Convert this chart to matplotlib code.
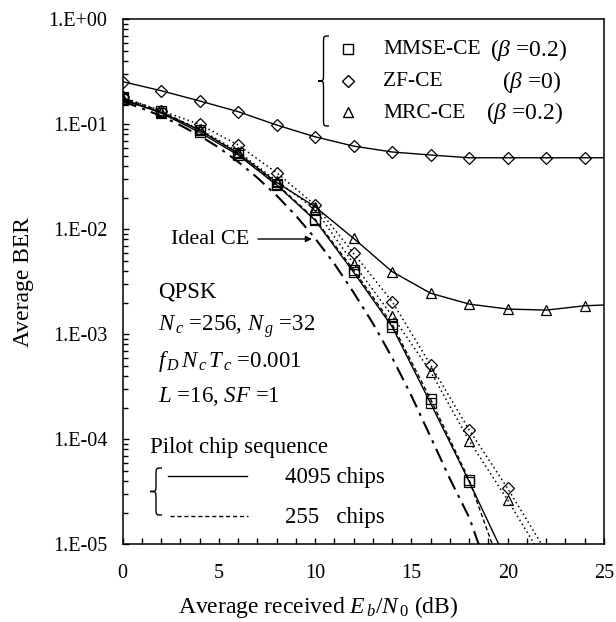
import numpy as np
import matplotlib
matplotlib.use("Agg")
import matplotlib.pyplot as plt
from matplotlib.path import Path
from matplotlib.patches import PathPatch
from matplotlib.lines import Line2D
from matplotlib.transforms import Affine2D
from matplotlib.ticker import FixedLocator, LogLocator, NullFormatter

plt.rcParams['font.family'] = ['Liberation Serif', 'DejaVu Serif']
plt.rcParams['mathtext.fontset'] = 'custom'
plt.rcParams['mathtext.rm'] = 'Liberation Serif'
plt.rcParams['mathtext.it'] = 'Liberation Serif:italic'
plt.rcParams['mathtext.bf'] = 'Liberation Serif:bold'

# ---------------- data ----------------
# ZF-CE (beta=0), 4095 chips (solid, diamonds)
zf4095_x = [0, 2, 4, 6, 8, 10, 12, 14, 16, 18, 20, 22, 24, 25]
zf4095_y = [0.255, 0.209, 0.167, 0.132, 0.0985, 0.076, 0.062, 0.0545, 0.051, 0.048, 0.048, 0.048, 0.048, 0.048]

# MRC-CE (beta=0.2), 4095 chips (solid, triangles)
mrc4095_x = [0, 2, 4, 6, 8, 10, 12, 14, 16, 18, 20, 22, 24, 25]
mrc4095_y = [0.17, 0.13, 0.088, 0.053, 0.028, 0.0164, 0.0082, 0.00395, 0.00246, 0.00194, 0.00174, 0.0017, 0.00187, 0.0019]

# MMSE-CE (beta=0.2), 4095 chips (solid, squares)
mmse4095_x = [0, 2, 4, 6, 8, 10, 12, 14, 16, 18, 20]
mmse4095_y = [0.175, 0.128, 0.084, 0.051, 0.0265, 0.0122, 0.0039, 0.00118, 0.00022, 3.95e-5, 6.6e-6]

# MMSE-CE (beta=0.2), 255 chips (dashed, squares)
mmse255_x = [0, 2, 4, 6, 8, 10, 12, 14, 16, 18, 19.5]
mmse255_y = [0.18, 0.133, 0.088, 0.053, 0.027, 0.0125, 0.0041, 0.00125, 0.00024, 4.1e-5, 7e-6]

# ZF-CE (beta=0), 255 chips (dotted, diamonds)
zf255_x = [0, 2, 4, 6, 8, 10, 12, 14, 16, 18, 20, 22.5]
zf255_y = [0.18, 0.135, 0.1, 0.0635, 0.0346, 0.017, 0.0059, 0.00205, 5.1e-4, 1.23e-4, 3.4e-5, 6e-6]

# MRC-CE (beta=0.2), 255 chips (dotted, triangles)
mrc255_x = [0, 2, 4, 6, 8, 10, 12, 14, 16, 18, 20, 22]
mrc255_y = [0.175, 0.13, 0.09, 0.055, 0.029, 0.0155, 0.0047, 0.0015, 4.4e-4, 9.7e-5, 2.64e-5, 6.5e-6]

# Ideal CE (dash-dot, no markers)
ideal_x = [0, 1, 2, 3, 4, 5, 6, 7, 8, 9, 10, 11, 12, 13, 14, 15, 16, 17, 18, 19]
ideal_y = [0.165, 0.142, 0.12, 0.098, 0.078, 0.06, 0.044, 0.031, 0.021, 0.0135, 0.0082,
           0.0047, 0.0025, 0.00127, 6.0e-4, 2.6e-4, 1.05e-4, 4.2e-5, 1.8e-5, 5.5e-6]

xticks = [0, 5, 10, 15, 20, 25]
yticks = [1e-5, 1e-4, 1e-3, 1e-2, 1e-1, 1e0]
ytick_labels = ['1.E-05', '1.E-04', '1.E-03', '1.E-02', '1.E-01', '1.E+00']

# ---------------- figure ----------------
W, H = 616, 622
fig = plt.figure(figsize=(W / 100, H / 100), dpi=100)
L, R, T, B = 122.5, 604, 19.3, 544.3
ax = fig.add_axes([L / W, 1 - B / H, (R - L) / W, (B - T) / H])
ax.set_xlim(0, 25)
ax.set_yscale('log')
ax.set_ylim(1e-5, 1)

lw = 1.0
mk = dict(markerfacecolor='none', markeredgecolor='black', markeredgewidth=0.9)

ax.plot(zf4095_x, zf4095_y, '-', color='black', lw=lw, marker='D', ms=6,
        markevery=list(range(13)), **mk)
ax.plot(mrc4095_x, mrc4095_y, '-', color='black', lw=lw, marker='^', ms=7,
        markevery=list(range(13)), **mk)
ax.plot(mmse4095_x, mmse4095_y, '-', color='black', lw=lw, marker='s', ms=6.5,
        markevery=list(range(10)), **mk)
ax.plot(mmse255_x, mmse255_y, color='black', lw=lw, ls=(0, (3, 2)), marker='s', ms=6.5,
        markevery=list(range(10)), **mk)
ax.plot(zf255_x, zf255_y, color='black', lw=lw * 1.1, ls=(0, (1, 2)), marker='D', ms=6,
        markevery=list(range(11)), **mk)
ax.plot(mrc255_x, mrc255_y, color='black', lw=lw * 1.1, ls=(0, (1, 2)), marker='^', ms=7,
        markevery=list(range(11)), **mk)
ax.plot(ideal_x, ideal_y, color='black', lw=1.5, ls=(0, (7, 3, 1.5, 3)))

# axes styling
for s in ax.spines.values():
    s.set_linewidth(1.1)
ax.xaxis.set_major_locator(FixedLocator(xticks))
ax.xaxis.set_minor_locator(FixedLocator(list(range(0, 26))))
ax.set_xticklabels([str(v) for v in xticks])
ax.yaxis.set_major_locator(FixedLocator(yticks))
ax.set_yticklabels(ytick_labels)
ax.yaxis.set_minor_locator(LogLocator(base=10, subs=np.arange(2, 10)))
ax.yaxis.set_minor_formatter(NullFormatter())
ax.tick_params(which='both', direction='in', top=False, right=False, width=1.0)
ax.tick_params(which='major', length=4.5)
ax.tick_params(which='minor', length=3.5)
ax.tick_params(axis='y', which='major', labelsize=14.5, pad=11)
ax.tick_params(axis='x', which='major', labelsize=14.5, pad=14)
ax.tick_params(axis='x', which='minor', length=4.5)

ax.set_ylabel('Average BER', fontsize=17, labelpad=10)
fig.text(318 / W, 1 - 607 / H, r'Average received $E_{\,b}$/$N_{\,0}$ (dB)', fontsize=17,
         ha='center', va='center')

# ---------------- annotations in pixel coordinates ----------------
pix = Affine2D().scale(1, -1).translate(0, H)

def ptext(x, y, s, **kw):
    fig.text(x / W, 1 - y / H, s, **kw)

def brace(xr, y0, y1, w):
    xm = xr - w * 0.5
    xl = xr - w
    ym = 0.5 * (y0 + y1)
    r = w * 0.6
    verts = [(xr, y0), (xm, y0), (xm, y0), (xm, y0 + r),
             (xm, ym - r),
             (xm, ym), (xm, ym), (xl, ym),
             (xm, ym), (xm, ym), (xm, ym + r),
             (xm, y1 - r),
             (xm, y1), (xm, y1), (xr, y1)]
    codes = [Path.MOVETO, Path.CURVE4, Path.CURVE4, Path.CURVE4,
             Path.LINETO,
             Path.CURVE4, Path.CURVE4, Path.CURVE4,
             Path.CURVE4, Path.CURVE4, Path.CURVE4,
             Path.LINETO,
             Path.CURVE4, Path.CURVE4, Path.CURVE4]
    p = PathPatch(Path(verts, codes), facecolor='none', edgecolor='black', lw=1.0,
                  transform=pix)
    fig.add_artist(p)

fs = 16.5
fsl = 15.5
fsb = 17
# top legend
brace(329, 36, 126, 11)
for (yy, m, ms) in [(49, 's', 7), (81, 'D', 6.5), (112, '^', 7.5)]:
    fig.add_artist(Line2D([348], [H - yy], marker=m, ms=ms, color='black',
                          markerfacecolor='none', markeredgewidth=1.0, transform=None))
ptext(383, 50, 'MMSE-CE', fontsize=fsl, va='center')
ptext(490, 50, r'($\beta$ =0.2)', fontsize=fsb, va='center')
ptext(383, 82, 'ZF-CE', fontsize=fsl, va='center')
ptext(502, 82, r'($\beta$ =0)', fontsize=fsb, va='center')
ptext(383, 113, 'MRC-CE', fontsize=fsl, va='center')
ptext(486, 113, r'($\beta$ =0.2)', fontsize=fsb, va='center')

# Ideal CE arrow
ptext(171, 240, 'Ideal CE', fontsize=16, va='center')
ax.annotate('', xy=(312 / W, 1 - 239 / H), xycoords='figure fraction',
            xytext=(258 / W, 1 - 239 / H), textcoords='figure fraction',
            arrowprops=dict(arrowstyle='-|>', color='black', lw=1.0,
                            mutation_scale=9, shrinkA=0, shrinkB=0))

# parameter text
ptext(158, 292, 'QPSK', fontsize=fs, va='center')
ptext(158, 327, r'$N_{\,c}$ =256, $N_{\,g}$ =32', fontsize=fs, va='center')
ptext(158, 362, r'$f_{\,D}\,N_{\,c}\,T_{\,c}$ =0.001', fontsize=fs, va='center')
ptext(158, 397, r'$L$ =16, $SF$ =1', fontsize=fs, va='center')

# pilot legend
ptext(150, 447, 'Pilot chip sequence', fontsize=fs, va='center')
brace(162, 468, 515, 12)
fig.add_artist(Line2D([168, 247], [H - 476, H - 476], color='black', lw=1.0, transform=None))
fig.add_artist(Line2D([170, 248], [H - 516, H - 516], color='black', lw=1.0,
                      ls=(0, (3, 2)), transform=None))
ptext(285, 477, '4095 chips', fontsize=fs, va='center')
ptext(285, 517, '255   chips', fontsize=fs, va='center')

fig.savefig('out.png', dpi=100)
